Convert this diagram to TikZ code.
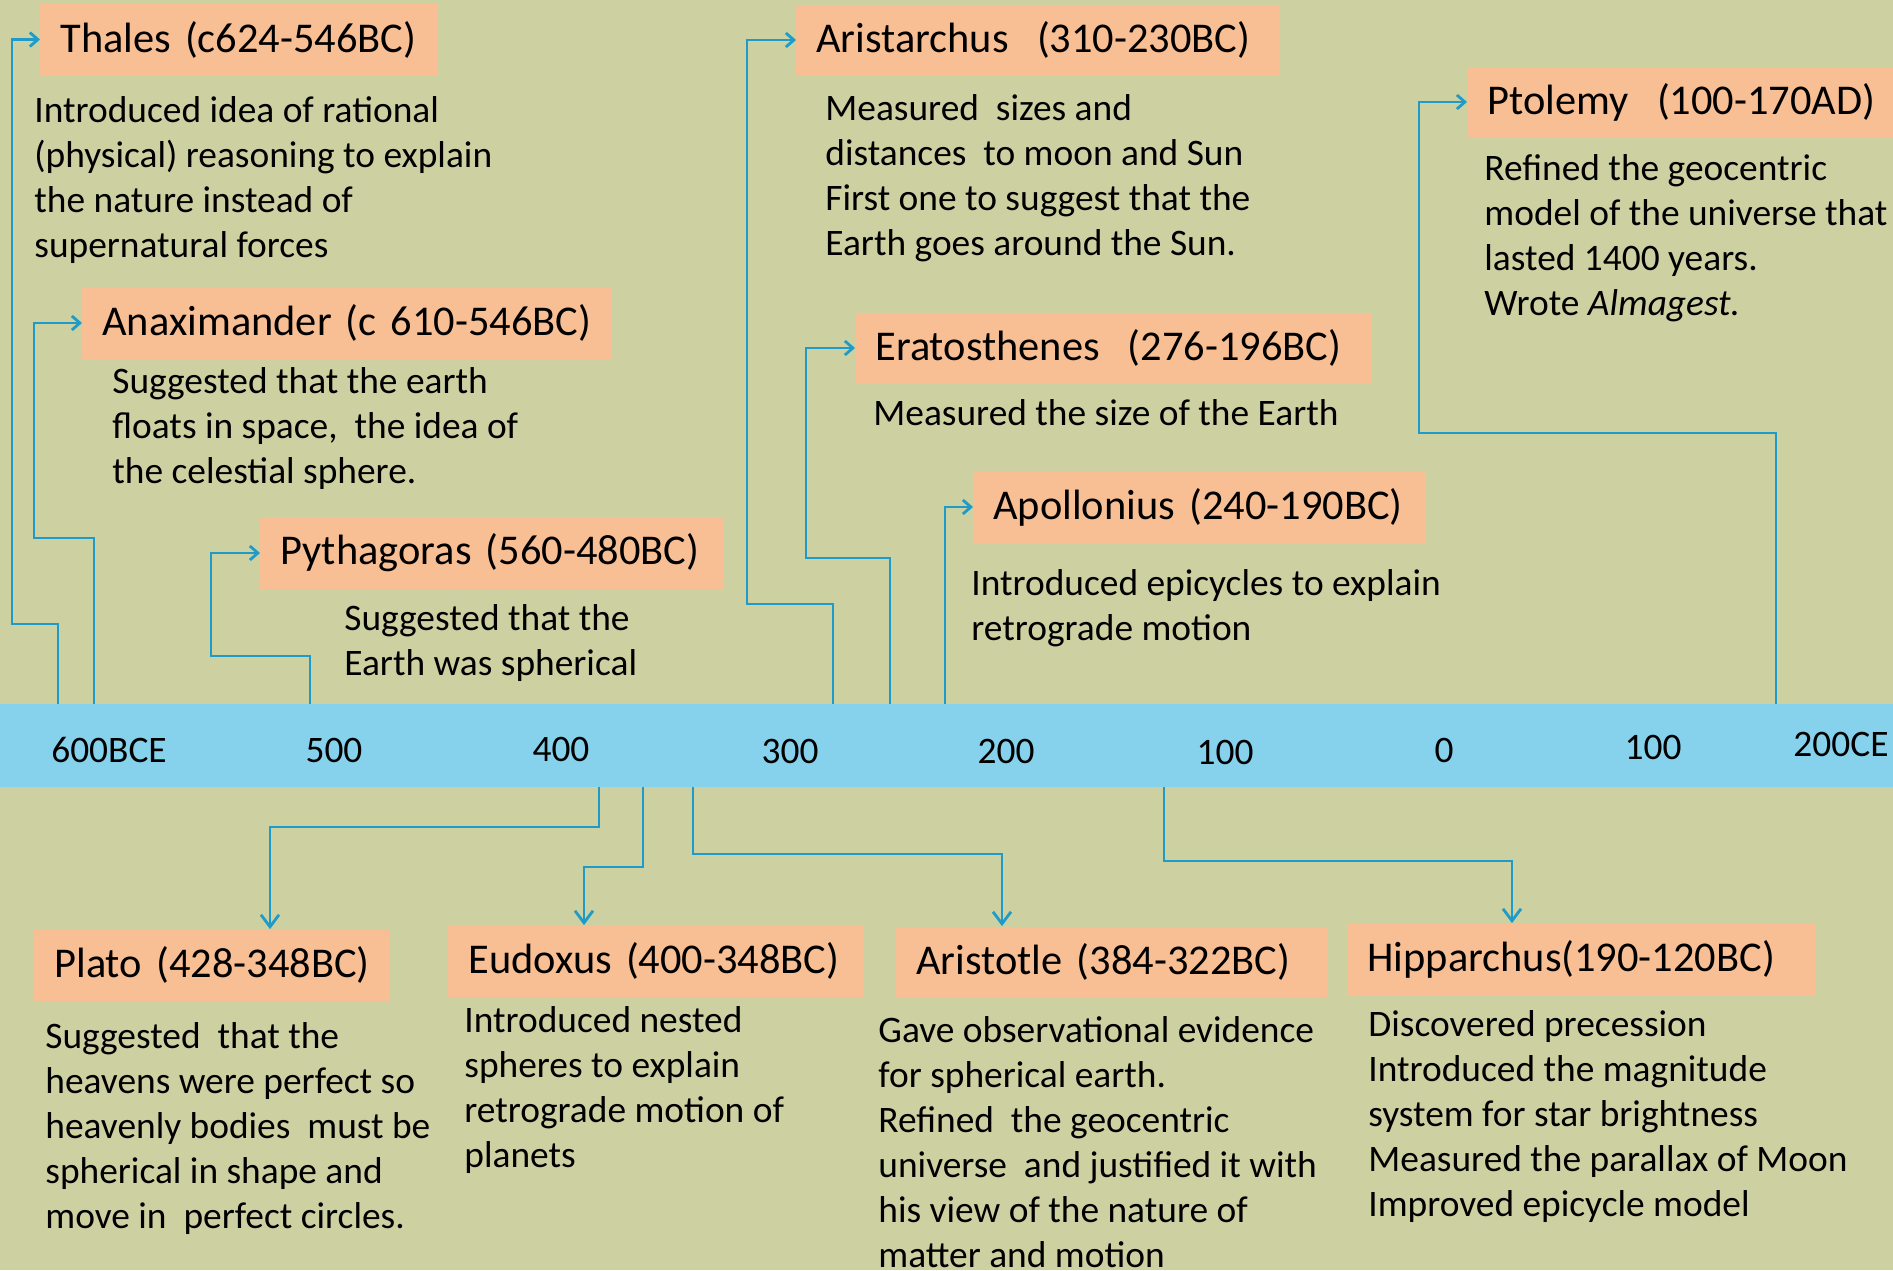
\documentclass[tikz,border=0pt]{standalone}
\usepackage{fontspec}
\setmainfont{Carlito}
\usetikzlibrary{arrows.meta, positioning, calc}
\definecolor{cback}{HTML}{CDD1A2}
\definecolor{cpeach}{HTML}{F9BF94}
\definecolor{csky}{HTML}{86D1EC}
\definecolor{cline}{HTML}{1E9BC8}
\newcommand{\namefont}{\fontsize{21.2pt}{25pt}\selectfont}
\newcommand{\notefont}{\fontsize{18.7pt}{22.5pt}\selectfont}
\tikzset{
  namebox/.style={fill=cpeach, anchor=west, align=left, text width=#1, inner xsep=10pt, inner ysep=0pt, minimum height=35.5pt, font=\namefont},
  note/.style={anchor=base west, align=left, inner sep=0pt, font=\notefont},
  year/.style={font=\notefont, inner sep=0pt},
  link/.style={draw=cline, line width=1.4pt},
  arrow/.style={link, -{Straight Barb[length=4pt, width=7pt]}},
  down arrow/.style={link, -{Straight Barb[length=6pt, width=9pt]}},
}

\begin{document}
\begin{tikzpicture}[x=0.5pt, y=-0.5pt]
  \fill[cback] (0,0) rectangle (1893,1270);
  \useasboundingbox (0,0) rectangle (1893,1270);

  \node[fill=csky, minimum width=946.5pt, minimum height=41.5pt, inner sep=0pt] (axis) at (946.5,745.5) {};
  \foreach \x/\y/\lab [count=\i] in {109/750/600BCE, 334/750/500, 561/749/400, 790/751/300, 1006/751/200, 1225/752/100, 1444/750/0, 1653/747/100, 1841/744/200CE}
    \node[year] (yr\i) at (\x,\y) {\lab};

  \node[namebox=179pt] (thales) at (40,39.5) {Thales (c624-546BC)};
  \node[note] (thales-note) at (34,257) {Introduced idea of rational\\(physical) reasoning to explain\\the nature instead of\\supernatural forces};
  \node[namebox=244.5pt] (anaximander) at (82,323) {Anaximander (c 610-546BC)};
  \node[note] (anaximander-note) at (112,483) {Suggested that the earth\\floats in space,\ \ the idea of\\the celestial sphere.};
  \node[namebox=211.5pt] (pythagoras) at (260,553) {Pythagoras (560-480BC)};
  \node[note] (pythagoras-note) at (344,675) {Suggested that the\\Earth was spherical};
  \node[namebox=222pt] (aristarchus) at (796,40) {Aristarchus\ \ (310-230BC)};
  \node[note] (aristarchus-note) at (825,255) {Measured\ \ sizes and\\distances\ \ to moon and Sun\\First one to suggest that the\\Earth goes around the Sun.};
  \node[namebox=238pt] (eratosthenes) at (855,348) {Eratosthenes\ \ (276-196BC)};
  \node[note] (eratosthenes-note) at (873,425) {Measured the size of the Earth};
  \node[namebox=206.5pt] (apollonius) at (973,507) {Apollonius (240-190BC)};
  \node[note] (apollonius-note) at (971,640) {Introduced epicycles to explain\\retrograde motion};
  \node[namebox=200pt] (ptolemy) at (1467,102) {Ptolemy\ \ (100-170AD)};
  \node[note] (ptolemy-note) at (1484,315) {Refined the geocentric\\model of the universe that\\lasted 1400 years.\\Wrote \textit{Almagest.}};

  \node[namebox=158pt] (plato) at (34,965) {Plato (428-348BC)};
  \node[note] (plato-note) at (45,1228) {Suggested\ \ that the\\heavens were perfect so\\heavenly bodies\ \ must be\\spherical in shape and\\move in\ \ perfect circles.};
  \node[namebox=187.5pt] (eudoxus) at (448,961) {Eudoxus (400-348BC)};
  \node[note] (eudoxus-note) at (464,1167) {Introduced nested\\spheres to explain\\retrograde motion of\\planets};
  \node[namebox=195.5pt] (aristotle) at (896,962) {Aristotle (384-322BC)};
  \node[note] (aristotle-note) at (878,1267) {Gave observational evidence\\for spherical earth.\\Refined\ \ the geocentric\\universe\ \ and justified it with\\his view of the nature of\\matter and motion};
  \node[namebox=214.5pt] (hipparchus) at (1347,959) {Hipparchus(190-120BC)};
  \node[note] (hipparchus-note) at (1368,1216) {Discovered precession\\Introduced the magnitude\\system for star brightness\\Measured the parallax of Moon\\Improved epicycle model};

  \coordinate (f1) at (58,704);   \coordinate (b1) at (12,624);
  \coordinate (f2) at (94,704);   \coordinate (b2) at (34,538);
  \coordinate (f3) at (310,704);  \coordinate (b3) at (211,656);
  \coordinate (f4) at (833,704);  \coordinate (b4) at (747,604);
  \coordinate (f5) at (890,704);  \coordinate (b5) at (806,558);
  \coordinate (f6) at (945,704);
  \coordinate (f7) at (1776,704); \coordinate (b7) at (1419,433);
  \coordinate (f8) at (599,787);  \coordinate (b8) at (270,827);
  \coordinate (f9) at (643,787);  \coordinate (b9) at (584,867);
  \coordinate (f10) at (693,787); \coordinate (b10) at (1002,854);
  \coordinate (f11) at (1164,787); \coordinate (b11) at (1512,861);

  \draw[arrow] (f1) |- (b1) |- (thales.west);
  \draw[arrow] (f2) |- (b2) |- (anaximander.west);
  \draw[arrow] (f3) |- (b3) |- (pythagoras.west);
  \draw[arrow] (f4) |- (b4) |- (aristarchus.west);
  \draw[arrow] (f5) |- (b5) |- (eratosthenes.west);
  \draw[arrow] (f6) |- (apollonius.west);
  \draw[arrow] (f7) |- (b7) |- (ptolemy.west);
  \draw[down arrow] (f8) |- (b8) -- (b8 |- plato.north);
  \draw[down arrow] (f9) |- (b9) -- (b9 |- eudoxus.north);
  \draw[down arrow] (f10) |- (b10) -- (b10 |- aristotle.north);
  \draw[down arrow] (f11) |- (b11) -- (b11 |- hipparchus.north);
\end{tikzpicture}
\end{document}
